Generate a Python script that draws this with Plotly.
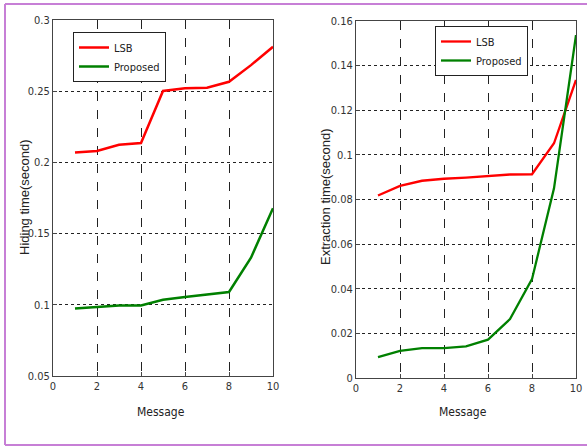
import plotly.graph_objects as go

messages = [1, 2, 3, 4, 5, 6, 7, 8, 9, 10]

hiding_lsb = [0.207, 0.208, 0.2124, 0.2136, 0.2502, 0.252, 0.2525, 0.2566, 0.2683, 0.2812]
hiding_proposed = [0.0974, 0.0986, 0.0995, 0.0995, 0.1035, 0.1054, 0.1073, 0.109, 0.1331, 0.1678]

extract_lsb = [0.0818, 0.0861, 0.0884, 0.0893, 0.0898, 0.0906, 0.0912, 0.0913, 0.1052, 0.1336]
extract_proposed = [0.0094, 0.0122, 0.0134, 0.0134, 0.0142, 0.0172, 0.0264, 0.0443, 0.085, 0.1537]

x_ticks = [0, 2, 4, 6, 8, 10]
left_y_ticks = [0.05, 0.1, 0.15, 0.2, 0.25, 0.3]
left_y_labels = ["0.05", "0.1", "0.15", "0.2", "0.25", "0.3"]
right_y_ticks = [0, 0.02, 0.04, 0.06, 0.08, 0.1, 0.12, 0.14, 0.16]
right_y_labels = ["0", "0.02", "0.04", "0.06", "0.08", "0.1", "0.12", "0.14", "0.16"]

NARROW = "DejaVu Sans Condensed, Liberation Sans Narrow, Arial Narrow, Liberation Sans, Arial, sans-serif"
WIDE = "Liberation Sans, Arial, sans-serif"
RED = "#ff0000"
GREEN = "#008000"
W, H = 587, 447

fig = go.Figure()
fig.add_trace(go.Scatter(x=messages, y=hiding_lsb, mode="lines", name="LSB",
                         line=dict(color=RED, width=2.5), xaxis="x", yaxis="y", legend="legend"))
fig.add_trace(go.Scatter(x=messages, y=hiding_proposed, mode="lines", name="Proposed",
                         line=dict(color=GREEN, width=2.5), xaxis="x", yaxis="y", legend="legend"))
fig.add_trace(go.Scatter(x=messages, y=extract_lsb, mode="lines", name="LSB",
                         line=dict(color=RED, width=2.3), xaxis="x2", yaxis="y2", legend="legend2"))
fig.add_trace(go.Scatter(x=messages, y=extract_proposed, mode="lines", name="Proposed",
                         line=dict(color=GREEN, width=2.3), xaxis="x2", yaxis="y2", legend="legend2"))

axis_common = dict(showline=True, linecolor="#444", linewidth=1, mirror=True,
                   ticks="inside", ticklen=4, tickcolor="#444", automargin=False,
                   showgrid=True, gridcolor="#222", gridwidth=1, zeroline=False,
                   tickfont=dict(family=NARROW, size=11, color="#333"))


def px_x(v):
    return v / W


def px_y(v):
    return 1 - v / H


fig.update_layout(
    template="none",
    width=W, height=H,
    margin=dict(l=0, r=0, t=0, b=0, autoexpand=False),
    paper_bgcolor="white", plot_bgcolor="white",
    showlegend=True,
    xaxis=dict(domain=[px_x(53), px_x(273)], range=[0, 10], tickvals=x_ticks,
               griddash="dash", anchor="y", **axis_common),
    yaxis=dict(domain=[px_y(376), px_y(20)], range=[0.05, 0.3], tickvals=left_y_ticks,
               ticktext=left_y_labels, griddash="dot", anchor="x", **axis_common),
    xaxis2=dict(domain=[px_x(356), px_x(576)], range=[0, 10], tickvals=x_ticks,
                griddash="dash", anchor="y2", **axis_common),
    yaxis2=dict(domain=[px_y(378), px_y(21)], range=[0, 0.16], tickvals=right_y_ticks,
                ticktext=right_y_labels, griddash="dot", anchor="x2", **axis_common),
    legend=dict(x=px_x(73), y=px_y(32), xanchor="left", yanchor="top",
                bgcolor="white", bordercolor="#222", borderwidth=1,
                font=dict(family=NARROW, size=11, color="#222"),
                itemwidth=30, tracegroupgap=0),
    legend2=dict(x=px_x(435), y=px_y(26), xanchor="left", yanchor="top",
                 bgcolor="white", bordercolor="#222", borderwidth=1,
                 font=dict(family=NARROW, size=11, color="#222"),
                 itemwidth=30, tracegroupgap=0),
    annotations=[
        dict(text="Hiding time(second)", x=px_x(24), y=px_y(197), xref="paper", yref="paper",
             xanchor="center", yanchor="middle",
             showarrow=False, textangle=-90, font=dict(family=WIDE, size=13, color="#222")),
        dict(text="Extraction time(second)", x=px_x(325), y=px_y(197), xref="paper", yref="paper",
             xanchor="center", yanchor="middle",
             showarrow=False, textangle=-90, font=dict(family=WIDE, size=13, color="#222")),
        dict(text="Message", x=px_x(161), y=px_y(412), xref="paper", yref="paper",
             xanchor="center", yanchor="middle",
             showarrow=False, font=dict(family=NARROW, size=12, color="#222")),
        dict(text="Message", x=px_x(463), y=px_y(412), xref="paper", yref="paper",
             xanchor="center", yanchor="middle",
             showarrow=False, font=dict(family=NARROW, size=12, color="#222")),
    ],
)

BORDER = "#c77fd6"
fig.add_shape(type="line", xref="paper", yref="paper", x0=px_x(5), x1=1, y0=px_y(4), y1=px_y(4),
              line=dict(color=BORDER, width=2))
fig.add_shape(type="line", xref="paper", yref="paper", x0=px_x(5), x1=1, y0=px_y(445), y1=px_y(445),
              line=dict(color=BORDER, width=2))
fig.add_shape(type="line", xref="paper", yref="paper", x0=px_x(5), x1=px_x(5), y0=px_y(4), y1=px_y(445),
              line=dict(color=BORDER, width=2))

fig.write_html("out.html", config={"displayModeBar": False},
               post_script="document.body.style.margin='0px';")
